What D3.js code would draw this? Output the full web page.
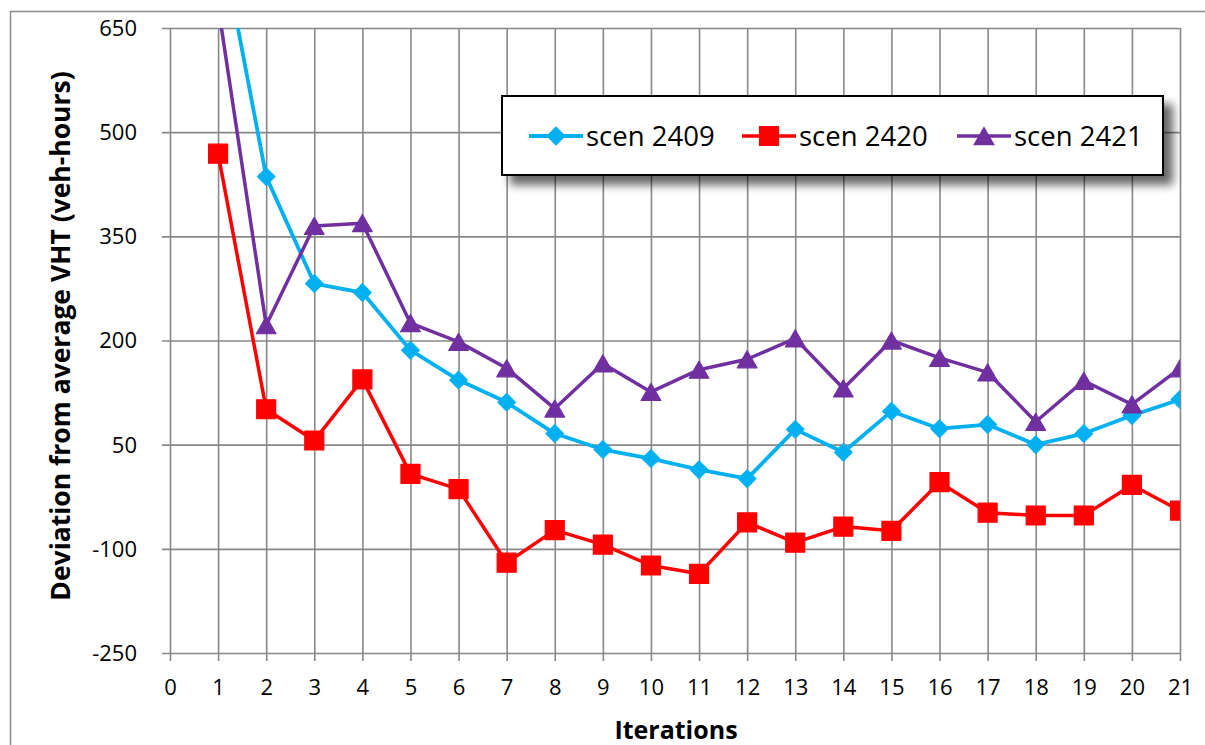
<!DOCTYPE html>
<html>
<head>
<meta charset="utf-8">
<script src="https://cdn.jsdelivr.net/npm/d3@7"></script>
<style>
  html, body { margin: 0; padding: 0; background: #fff; }
  svg { display: block; }
  text { font-family: "Open Sans", "Noto Sans", sans-serif; }
</style>
</head>
<body>
<script>
// ---- data ----
const iterations = [1,2,3,4,5,6,7,8,9,10,11,12,13,14,15,16,17,18,19,20,21];
const scen2409 = [800,436,282,269,186,143,111,66,43,30,14,1,72,39,98,73,79,50,66,92,115];
const scen2420 = [469,101,56,144,8,-14,-120,-73,-94,-124,-136,-62,-91,-68,-74,-4,-48,-52,-52,-8,-45];
const scen2421 = [682,222,365,369,225,198,160,102,167,126,158,173,203,131,200,175,154,83,142,108,160];
const seriesNames = ["scen 2409","scen 2420","scen 2421"];
const seriesColors = ["#00B0F0","#FF0000","#7030A0"];
const seriesShapes = ["diamond","square","triangle"];
const xTicks = d3.range(0,22);
const yTicks = [-250,-100,50,200,350,500,650];

const W = 1205, H = 745;
const m = {left:170, right:1180, top:28, bottom:653};

const svg = d3.select("body").append("svg").attr("width",W).attr("height",H);
const defs = svg.append("defs");
const flt = defs.append("filter").attr("id","shadow").attr("x","-10%").attr("y","-30%").attr("width","130%").attr("height","170%");
flt.append("feGaussianBlur").attr("in","SourceAlpha").attr("stdDeviation",5).attr("result","b");
flt.append("feOffset").attr("in","b").attr("dx",9).attr("dy",9).attr("result","o");
flt.append("feComponentTransfer").attr("in","o").attr("result","o2")
   .append("feFuncA").attr("type","linear").attr("slope",0.6);
const fm = flt.append("feMerge");
fm.append("feMergeNode").attr("in","o2");
fm.append("feMergeNode").attr("in","SourceGraphic");

defs.append("clipPath").attr("id","plotclip").append("rect")
  .attr("x",m.left).attr("y",m.top).attr("width",m.right-m.left).attr("height",m.bottom-m.top);

// outer chart border (left and top visible)
svg.append("path").attr("d",`M10.5,${H} L10.5,11.5 L${W},11.5`).attr("fill","none")
  .attr("stroke","#8c8c8c").attr("stroke-width",1.5);

const x = d3.scaleLinear().domain([0,21]).range([m.left,m.right]);
const y = d3.scaleLinear().domain([-250,650]).range([m.bottom,m.top]);

const gridColor = "#888888";
// horizontal grid lines with left tick stubs
const yAxis = d3.axisLeft(y).tickValues(yTicks).tickFormat(d=>String(d))
  .tickSize(-(m.right-m.left)).tickSizeOuter(0).tickPadding(24);
const gy = svg.append("g").attr("transform",`translate(${m.left},0)`).call(yAxis);
gy.select(".domain").remove();
gy.selectAll(".tick line").attr("stroke",gridColor).attr("stroke-width",1.6).attr("x1",-8);
gy.selectAll(".tick text").attr("font-size",22).attr("fill","#000")
  .style("font-family","'Open Sans', sans-serif").attr("x",-33).attr("dy","0.34em");

// vertical grid lines with bottom tick stubs
const xAxis = d3.axisBottom(x).tickValues(xTicks).tickFormat(d=>String(d))
  .tickSize(-(m.bottom-m.top)).tickSizeOuter(0).tickPadding(10);
const gx = svg.append("g").attr("transform",`translate(0,${m.bottom})`).call(xAxis);
gx.select(".domain").remove();
gx.selectAll(".tick line").attr("stroke",gridColor).attr("stroke-width",1.6).attr("y1",8);
gx.selectAll(".tick text").attr("font-size",22).attr("fill","#000")
  .style("font-family","'Open Sans', sans-serif").attr("y",26).attr("dy","0.71em");

// series
const seriesData = [scen2409, scen2420, scen2421];
const lineGen = d3.line().x((d,i)=>x(iterations[i])).y(d=>y(d));
const plotG = svg.append("g").attr("clip-path","url(#plotclip)");
const widths = [3.8,3.5,3.5];
seriesData.forEach((vals,si)=>{
  plotG.append("path").datum(vals).attr("d",lineGen).attr("fill","none")
    .attr("stroke",seriesColors[si]).attr("stroke-width",widths[si]).attr("stroke-linejoin","round");
});

function markerPath(shape, cx, cy, s){
  if(shape==="diamond"){
    const r=s*0.55;
    return `M${cx},${cy-r} L${cx+r},${cy} L${cx},${cy+r} L${cx-r},${cy} Z`;
  } else if(shape==="square"){
    const r=s/2;
    return `M${cx-r},${cy-r} h${s} v${s} h${-s} Z`;
  } else {
    const hw=s*0.52, hh=s*0.45;
    return `M${cx},${cy-hh} L${cx+hw},${cy+hh} L${cx-hw},${cy+hh} Z`;
  }
}
const msizes = [16,19,19];
seriesData.forEach((vals,si)=>{
  plotG.selectAll(null).data(vals).enter().append("path")
    .attr("d",(d,i)=>markerPath(seriesShapes[si], x(iterations[i]), y(d), msizes[si]))
    .attr("fill",seriesColors[si]).attr("stroke",seriesColors[si]).attr("stroke-width",1.2)
    .attr("stroke-linejoin","round");
});

// legend
const lg = svg.append("g");
lg.append("rect").attr("x",502).attr("y",96).attr("width",661).attr("height",79)
  .attr("fill","#fff").attr("stroke","#000").attr("stroke-width",2).attr("filter","url(#shadow)");
const legX = [529, 742, 957];
seriesNames.forEach((n,i)=>{
  const g = lg.append("g").attr("transform",`translate(${legX[i]},136)`);
  g.append("line").attr("x1",0).attr("x2",54).attr("y1",0).attr("y2",0)
    .attr("stroke",seriesColors[i]).attr("stroke-width",widths[i]);
  g.append("path").attr("d",markerPath(seriesShapes[i],27,0,msizes[i])).attr("fill",seriesColors[i])
    .attr("stroke",seriesColors[i]).attr("stroke-width",1.2);
  g.append("text").attr("x",57).attr("y",0).attr("dy","0.36em").attr("font-size",27.5)
    .attr("fill","#000").text(n);
});

// axis titles
svg.append("text").attr("transform",`translate(70,336) rotate(-90)`).attr("text-anchor","middle")
  .attr("font-size",26.5).attr("font-weight","bold").attr("fill","#000")
  .text("Deviation from average VHT (veh-hours)");
svg.append("text").attr("x",676).attr("y",739).attr("text-anchor","middle")
  .attr("font-size",25).attr("font-weight","bold").attr("fill","#000").text("Iterations");
</script>
</body>
</html>
